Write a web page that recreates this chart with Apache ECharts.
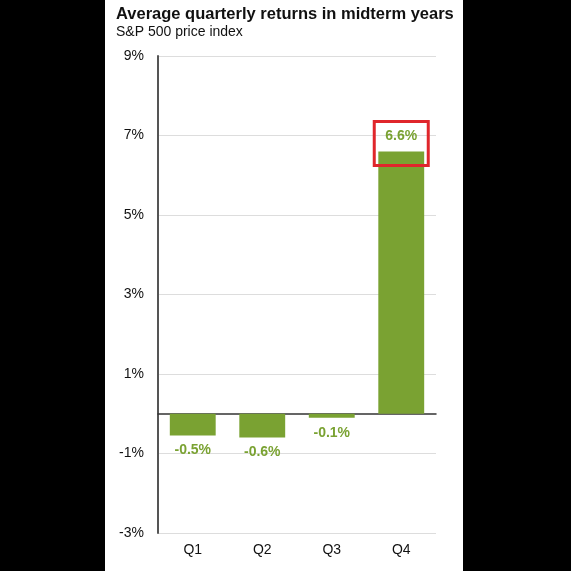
<!DOCTYPE html>
<html><head><meta charset="utf-8">
<script src="https://cdn.jsdelivr.net/npm/echarts@6/dist/echarts.min.js"></script>
<style>html,body{margin:0;padding:0;background:#000}#c{width:571px;height:571px}</style>
</head><body><div id="c"></div>
<script>
const categories = ['Q1','Q2','Q3','Q4'];
const values = [-0.55, -0.6, -0.1, 6.6];
const labels = ['-0.5%','-0.6%','-0.1%','6.6%'];

const chart = echarts.init(document.getElementById('c'));
const green = '#7aa232';
const font = '"Liberation Sans", Arial';
chart.setOption({
  backgroundColor: '#000',
  animation: false,
  grid: {left:158, right:135, top:56, bottom:38},
  xAxis: {
    type:'category', data:categories,
    axisLine:{onZero:true, lineStyle:{color:'#333', width:1.5}},
    axisTick:{show:false},
    axisLabel:{show:false}
  },
  yAxis: {
    type:'value', min:-3, max:9, interval:2,
    axisLine:{show:true, lineStyle:{color:'#555', width:2}},
    axisTick:{show:false},
    axisLabel:{formatter: v => v + '%', color:'#111', fontSize:14, fontFamily:font, margin:14},
    splitLine:{lineStyle:{color:'#ddd'}}
  },
  series: [{
    type:'bar', barWidth:'66%',
    data: values.map(v => ({value:v, label:{position: v < 0 ? 'bottom' : 'top'}})),
    itemStyle:{color: green},
    label:{show:true, formatter: p => labels[p.dataIndex], color: green, fontWeight:'bold', fontSize:14, fontFamily:font, distance:8}
  }]
});
const bottomY = chart.convertToPixel({yAxisIndex:0}, -3);
const extra = categories.map(c => {
  const x = chart.convertToPixel({xAxisIndex:0}, c);
  return {type:'text', x:x, y:bottomY+10, style:{text:c, font:'14px ' + font, fill:'#111', textAlign:'center'}};
});
const q4x = chart.convertToPixel({xAxisIndex:0}, categories[3]);
const q4top = chart.convertToPixel({yAxisIndex:0}, values[3]);
extra.push({type:'rect', z:10, shape:{x:q4x-27, y:q4top-30, width:54, height:44}, style:{fill:'none', stroke:'#e0262b', lineWidth:3}});
chart.setOption({
  graphic: [
    {type:'rect', z:-10, shape:{x:105,y:0,width:358,height:571}, style:{fill:'#fff'}},
    {type:'text', left:116, top:6, style:{text:'Average quarterly returns in midterm years', font:'bold 16.5px ' + font, fill:'#111'}},
    {type:'text', left:116, top:25, style:{text:'S&P 500 price index', font:'14px ' + font, fill:'#111'}}
  ].concat(extra)
});
</script></body></html>
